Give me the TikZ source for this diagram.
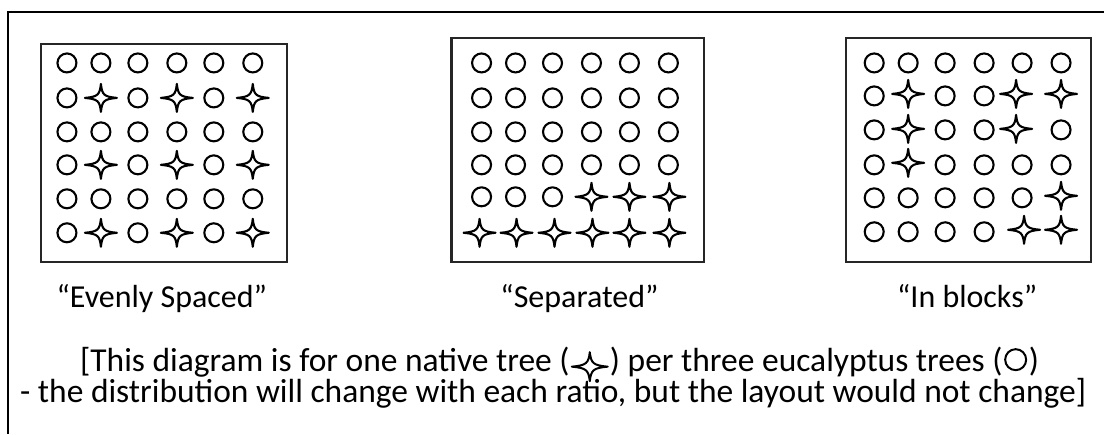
\documentclass[tikz,border=0pt]{standalone}
\usepackage{fontspec}
\setmainfont{Carlito}
\tikzset{
  tree/.style={circle, draw, line width=2.1pt, minimum size=19pt, inner sep=0pt},
  plot/.style={draw=black!85, line width=2.2pt},
  lbl/.style={font=\fontsize{32}{38}\selectfont, inner sep=0pt},
  note/.style={font=\fontsize{33.5}{40}\selectfont, inner sep=0pt},
  star/.pic={
    \coordinate (-c) at (0,0);
    \draw[line width=2.1pt, line join=round] (16,0) .. controls (3,1.2) and (1.2,3) .. (0,14) .. controls (-1.2,3) and (-3,1.2) .. (-16,0) .. controls (-3,-1.2) and (-1.2,-3) .. (0,-14) .. controls (1.2,-3) and (3,-1.2) .. cycle;
  },
  bigstar/.pic={
    \coordinate (-c) at (0,0);
    \draw[line width=2pt, line join=round] (18,0) .. controls (3.4,1.3) and (1.3,3.4) .. (0,14.5) .. controls (-1.3,3.4) and (-3.4,1.3) .. (-18,0) .. controls (-3.4,-1.3) and (-1.3,-3.4) .. (0,-14.5) .. controls (1.3,-3.4) and (3.4,-1.3) .. cycle;
  }
}
\begin{document}
\begin{tikzpicture}[x=1pt,y=-1pt]
\fill[white] (0,0) rectangle (1105,434);
% outer frame (top and left edges only)
\coordinate (fa) at (8,434);
\coordinate (fb) at (8,12);
\coordinate (fc) at (1105,12);
\draw[line width=2pt] (fa) -- (fb) -- (fc);
% plot boxes
\draw[plot] (41,44) rectangle (287,262);
\draw[plot] (452,38) rectangle (705,262);
\draw[plot] (847,38) rectangle (1092,262);
% ---------- Grid 1: evenly spaced ----------
\foreach \y [count=\r] in {63,132,199}
  \foreach \x [count=\c] in {67,101,138,177,214,253}
    \node[tree] (a-\r-\c) at (\x,\y) {};
\foreach \y [count=\r] in {98,165,233}
  \foreach \x [count=\c] in {67,138,214}
    \node[tree] (ab-\r-\c) at (\x,\y) {};
\foreach \y [count=\r] in {98,165,233}
  \foreach \x [count=\c] in {101,177,253}
    \pic (as-\r-\c) at (\x,\y) {star};
% ---------- Grid 2: separated ----------
\foreach \y [count=\r] in {63,98,132,165}
  \foreach \x [count=\c] in {482,516,553,592,630,669}
    \node[tree] (b-\r-\c) at (\x,\y) {};
\foreach \x [count=\c] in {482,516,553}
  \node[tree] (b-5-\c) at (\x,197) {};
\foreach \x [count=\c] in {592,630,670}
  \pic (bs-5-\c) at (\x,197) {star};
\foreach \x [count=\c] in {480,517,555,593,630,670}
  \pic (bs-6-\c) at (\x,233) {star};
% ---------- Grid 3: in blocks ----------
\foreach \x [count=\c] in {875,909,946,985,1023,1062}
  \node[tree] (c-1-\c) at (\x,63) {};
\foreach \x [count=\c] in {875,946,985}
  \node[tree] (c-2-\c) at (\x,96) {};
\foreach \x [count=\c] in {909,1017,1062}
  \pic (cs-2-\c) at (\x,94) {star};
\foreach \x [count=\c] in {875,946,985,1062}
  \node[tree] (c-3-\c) at (\x,130) {};
\foreach \x [count=\c] in {909,1017}
  \pic (cs-3-\c) at (\x,129) {star};
\foreach \x [count=\c] in {875,946,985,1023,1062}
  \node[tree] (c-4-\c) at (\x,165) {};
\pic (cs-4-1) at (909,163) {star};
\foreach \x [count=\c] in {875,909,946,985,1023}
  \node[tree] (c-5-\c) at (\x,198) {};
\pic (cs-5-1) at (1062,196) {star};
\foreach \x [count=\c] in {875,909,946,985}
  \node[tree] (c-6-\c) at (\x,232) {};
\foreach \x [count=\c] in {1025,1062}
  \pic (cs-6-\c) at (\x,230) {star};
% ---------- labels ----------
\node[lbl, anchor=base] (l1) at (162,308) {“Evenly Spaced”};
\node[lbl, anchor=base] (l2) at (580,308) {“Separated”};
\node[lbl, anchor=base] (l3) at (968,308) {“In blocks”};
% ---------- note, line 1 (with drawn symbols) ----------
\node[note, anchor=base west] (n1a) at (80,372) {[This diagram is for one native tree (};
\pic (nstar) at ([shift={(20,-5)}]n1a.base east) {bigstar};
\node[note, anchor=base west] (n1b) at ([xshift=40pt]n1a.base east) {) per three eucalyptus trees (};
\node[circle, draw, line width=2pt, minimum size=21pt, inner sep=0pt] (ncirc) at ([shift={(13,-12)}]n1b.base east) {};
\node[note, anchor=base west] (n1c) at ([xshift=26pt]n1b.base east) {)};
% ---------- note, line 2 ----------
\node[note, anchor=base west] (n2) at (20,403) {- the distribution will change with each ratio, but the layout would not change]};
\end{tikzpicture}
\end{document}
